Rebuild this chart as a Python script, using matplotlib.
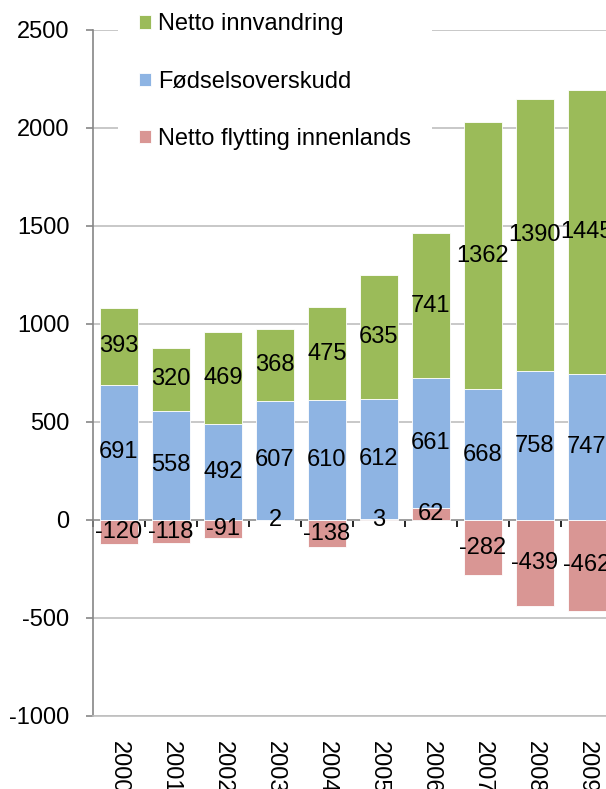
import matplotlib.pyplot as plt
import numpy as np

plt.rcParams['font.family'] = ['Liberation Sans', 'DejaVu Sans']
plt.rcParams['axes.unicode_minus'] = False

years = ['2000', '2001', '2002', '2003', '2004', '2005', '2006', '2007', '2008', '2009']
innvandring = [393, 320, 469, 368, 475, 635, 741, 1362, 1390, 1445]
fodselsoverskudd = [691, 558, 492, 607, 610, 612, 661, 668, 758, 747]
flytting = [-120, -118, -91, 2, -138, 3, 62, -282, -439, -462]

green = '#9BBB59'
blue = '#8EB4E3'
red = '#D99694'
grid_grey = '#BFBFBF'
axis_grey = '#868686'

ymin, ymax = -1000, 2500
fs = 17

fig = plt.figure(figsize=(6.06, 7.89), dpi=100)
ax = fig.add_axes([93 / 606, 73 / 789, 520 / 606, 686 / 789])

x = np.arange(len(years))
flytt = np.array(flytting)
blue_bottom = np.where(flytt > 0, flytt, 0)
green_bottom = blue_bottom + np.array(fodselsoverskudd)

b_red = ax.bar(x, flytt, width=0.74, color=red, edgecolor='white', linewidth=0.6)
b_blue = ax.bar(x, fodselsoverskudd, bottom=blue_bottom, width=0.74, color=blue,
                edgecolor='white', linewidth=0.6)
b_green = ax.bar(x, innvandring, bottom=green_bottom, width=0.74, color=green,
                 edgecolor='white', linewidth=0.6)

for bars in (b_red, b_blue, b_green):
    ax.bar_label(bars, label_type='center', fontsize=fs, color='black')

ax.set_xlim(-0.5, len(years) - 0.5)
ax.set_ylim(ymin, ymax)
ax.set_yticks(np.arange(ymin, ymax + 1, 500))
ax.yaxis.grid(True, color=grid_grey, linewidth=1.2)
ax.set_axisbelow(True)

ax.tick_params(axis='y', labelsize=fs, length=5, width=1.2, color=axis_grey, pad=12)
ax.set_xticks(x)
ax.set_xticklabels(years, rotation=270, fontsize=fs, ha='center', va='top')
ax.tick_params(axis='x', length=0, pad=18)

for s in ['top', 'right']:
    ax.spines[s].set_visible(False)
ax.spines['left'].set_color(axis_grey)
ax.spines['left'].set_linewidth(1.2)
ax.spines['bottom'].set_color(grid_grey)
ax.spines['bottom'].set_linewidth(1.2)

# category axis line at zero, with tick marks between the bars
zero_ax = ax.secondary_xaxis((0 - ymin) / (ymax - ymin))
zero_ax.set_xticks(np.arange(-0.5, len(years), 1))
zero_ax.set_xticklabels([])
zero_ax.tick_params(axis='x', direction='out', length=5, width=1.2, color='black')
zero_ax.spines['bottom'].set_color('black')
zero_ax.spines['bottom'].set_linewidth(1.4)

leg = ax.legend([b_green, b_blue, b_red],
                ['Netto innvandring', 'Fødselsoverskudd', 'Netto flytting innenlands'],
                loc='upper left', bbox_to_anchor=(118 / 606, 1 + 8 / 789),
                bbox_transform=fig.transFigure, fontsize=fs, frameon=True,
                facecolor='white', edgecolor='none', framealpha=1, fancybox=False,
                borderpad=0.9, labelspacing=1.5, handlelength=0.5, handleheight=0.5,
                handletextpad=0.3, borderaxespad=0)

fig.savefig('out.png', dpi=100)
